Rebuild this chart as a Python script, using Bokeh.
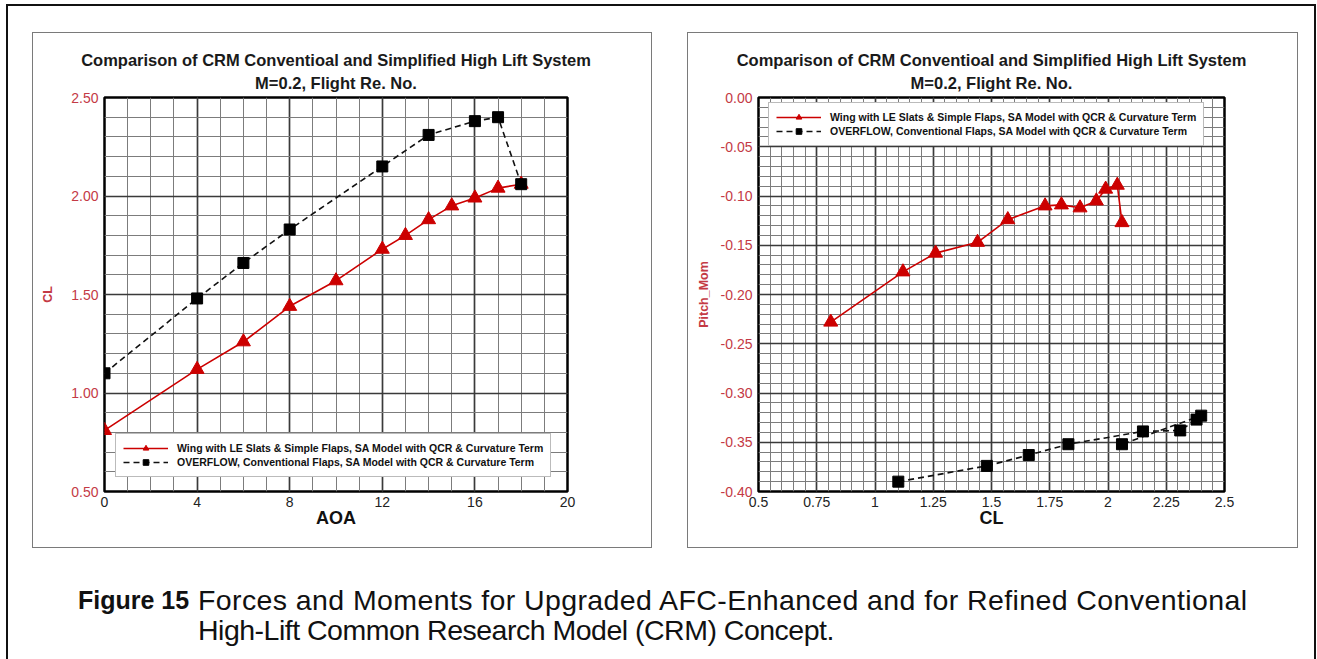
import numpy as np
from bokeh.plotting import figure
from bokeh.models import (Legend, LegendItem, FixedTicker, NumeralTickFormatter,
                          Title, Div, Range1d)
from bokeh.layouts import column, row
from bokeh.embed import file_html
from bokeh.resources import INLINE

# ---------------- data ----------------
aoa_wing = [0, 4, 6, 8, 10, 12, 13, 14, 15, 16, 17, 18]
cl_wing = [0.81, 1.12, 1.26, 1.44, 1.57, 1.73, 1.80, 1.88, 1.95, 1.99, 2.04, 2.06]
cm_wing = [-0.228, -0.177, -0.158, -0.147, -0.124, -0.110, -0.109, -0.112,
           -0.105, -0.093, -0.089, -0.127]

aoa_ovf = [0, 4, 6, 8, 12, 14, 16, 17, 18]
cl_ovf = [1.10, 1.48, 1.66, 1.83, 2.15, 2.31, 2.38, 2.40, 2.06]
cm_ovf = [-0.390, -0.374, -0.363, -0.352, -0.339, -0.338, -0.327, -0.323, -0.352]

label_wing = "Wing with LE Slats & Simple Flaps, SA Model with QCR & Curvature Term"
label_ovf = "OVERFLOW, Conventional Flaps, SA Model with QCR & Curvature Term"
title1 = "Comparison of CRM Conventioal and Simplified High Lift System"
title2 = "M=0.2, Flight Re. No."

aoa_major = [0, 4, 8, 12, 16, 20]
aoa_minor = list(range(0, 21))
cl_major = [0.5, 1.0, 1.5, 2.0, 2.5]
cl_minor = [round(0.5 + 0.1 * i, 2) for i in range(21)]
clx_major = [0.5, 0.75, 1.0, 1.25, 1.5, 1.75, 2.0, 2.25, 2.5]
clx_minor = [round(0.5 + 0.05 * i, 2) for i in range(41)]
cm_major = [round(-0.40 + 0.05 * i, 2) for i in range(9)]
cm_minor = [round(-0.40 + 0.01 * i, 2) for i in range(41)]

RED = "#cc0000"
TICK_RED = "#c43a45"
FONT = "Liberation Sans"


def style_fig(p, xticks, xminor, yticks, yminor, xlabel, ylabel, ylabel_standoff,
              xfmt, yfmt):
    xt = FixedTicker(ticks=xticks, minor_ticks=xminor)
    yt = FixedTicker(ticks=yticks, minor_ticks=yminor)
    p.xaxis[0].ticker = xt
    p.xgrid[0].ticker = xt
    p.yaxis[0].ticker = yt
    p.ygrid[0].ticker = yt
    for g in (p.xgrid[0], p.ygrid[0]):
        g.grid_line_color = "#3a3a3a"
        g.grid_line_width = 1.7
        g.minor_grid_line_color = "#7c7c7c"
        g.minor_grid_line_width = 1.0
    for ax in (p.xaxis[0], p.yaxis[0]):
        ax.axis_line_color = None
        ax.major_tick_line_color = None
        ax.minor_tick_line_color = None
        ax.major_tick_out = 0
        ax.minor_tick_out = 0
        ax.major_label_text_font = FONT
        ax.major_label_text_font_size = "14px"
        ax.axis_label_text_font = FONT
        ax.axis_label_text_font_style = "bold"
    p.xaxis[0].major_label_standoff = 5
    p.xaxis[0].major_label_text_color = "#222222"
    p.xaxis[0].axis_label = xlabel
    p.xaxis[0].axis_label_text_font_size = "18px"
    p.xaxis[0].axis_label_text_color = "#111111"
    p.xaxis[0].axis_label_standoff = -2
    p.xaxis[0].formatter = NumeralTickFormatter(format=xfmt)
    p.yaxis[0].major_label_standoff = 6
    p.yaxis[0].major_label_text_color = TICK_RED
    p.yaxis[0].axis_label = ylabel
    p.yaxis[0].axis_label_text_font_size = "12.5px"
    p.yaxis[0].axis_label_text_color = TICK_RED
    p.yaxis[0].axis_label_standoff = ylabel_standoff
    p.yaxis[0].formatter = NumeralTickFormatter(format=yfmt)
    p.outline_line_color = "black"
    p.outline_line_width = 2.5
    p.outline_line_alpha = 1.0
    p.background_fill_color = "white"
    p.border_fill_color = "white"
    for t, so in ((title2, 11), (title1, -4)):
        p.add_layout(Title(text=t, align="center", text_font=FONT,
                           text_font_size="16.5px", text_font_style="bold",
                           text_color="#1a1a1a", standoff=so), "above")


def add_series(p, xw, yw, xo, yo, legend_loc):
    lw = p.line(xw, yw, line_color=RED, line_width=1.6)
    sw = p.scatter(xw, yw, marker="triangle", size=14, fill_color=RED, line_color=RED)
    lo = p.line(xo, yo, line_color="#111111", line_width=1.6, line_dash="6 4")
    so = p.scatter(xo, yo, marker="square", size=11, fill_color="black", line_color="black")
    leg = Legend(items=[LegendItem(label=label_wing, renderers=[lw, sw]),
                        LegendItem(label=label_ovf, renderers=[lo, so])],
                 location=legend_loc, orientation="vertical",
                 label_text_font=FONT, label_text_font_size="10.5px",
                 label_text_font_style="bold", label_text_color="#111111",
                 glyph_width=45, glyph_height=14, label_height=13,
                 label_standoff=9, spacing=0, padding=7, margin=0,
                 border_line_color="#777777", border_line_width=1.5,
                 background_fill_color="white", background_fill_alpha=1.0)
    p.add_layout(leg, "center")


# ---------------- left panel: CL vs AOA ----------------
pL = figure(width=618, height=514, x_range=Range1d(0, 20), y_range=Range1d(0.5, 2.5),
            output_backend="svg", toolbar_location=None, title=None,
            min_border_left=71, min_border_right=84, min_border_top=64,
            min_border_bottom=56, styles={"outline": "1px solid #7a7a7a"})
style_fig(pL, aoa_major, aoa_minor, cl_major, cl_minor, "AOA", "CL", 13, "0", "0.00")
add_series(pL, aoa_wing, cl_wing, aoa_ovf, cl_ovf, (11, 14))

# ---------------- right panel: Pitch_Mom vs CL ----------------
pR = figure(width=609, height=514, x_range=Range1d(0.5, 2.5), y_range=Range1d(-0.4, 0.0),
            output_backend="svg", toolbar_location=None, title=None,
            min_border_left=70, min_border_right=73, min_border_top=64,
            min_border_bottom=56, styles={"outline": "1px solid #7a7a7a"})
style_fig(pR, clx_major, clx_minor, cm_major, cm_minor, "CL", "Pitch_Mom", 7, "0.[00]", "0.00")
add_series(pR, cl_wing, cm_wing, cl_ovf, cm_ovf, (10, 345))

# ---------------- caption ----------------
caption_html = (
    "<div style=\"font-family: 'Liberation Sans', Arial, sans-serif; font-size: 28.5px; "
    "line-height: 30px; color: #111; display: grid; grid-template-columns: 120px auto;\">"
    "<b style=\"font-size: 25px;\">Figure 15</b>"
    "<span><span style=\"letter-spacing: 0.4px;\">Forces and Moments for Upgraded "
    "AFC-Enhanced and for Refined Conventional</span><br>"
    "<span style=\"letter-spacing: -0.5px;\">High-Lift Common Research Model (CRM) "
    "Concept.</span></span></div>"
)
cap = Div(text=caption_html, width=1230, height=90, margin=(38, 0, 0, 70))

panels = row(pL, pR, spacing=37, margin=(27, 0, 0, 25))
root = column(panels, cap, width=1306, margin=(6, 0, 0, 8),
              styles={"outline": "2px solid #111", "background": "white"})

open("out.html", "w").write(file_html(root, INLINE))
